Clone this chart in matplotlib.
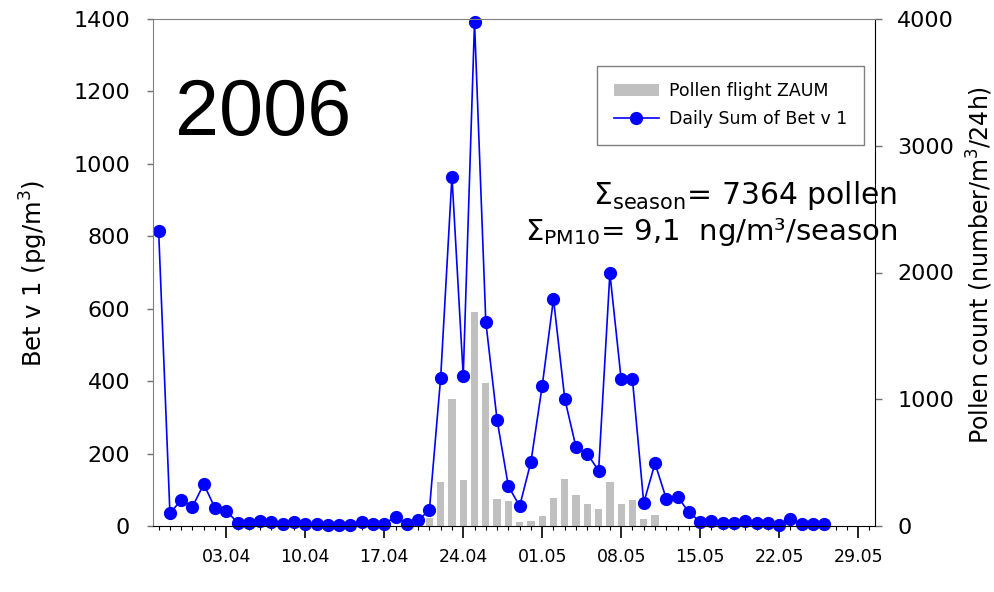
import matplotlib
matplotlib.use('Agg')
import matplotlib.pyplot as plt
import pandas as pd

# daily values 28.03.2006 - 26.05.2006
days = pd.date_range('2006-03-28', '2006-05-26', freq='D').to_pydatetime()

# Bet v 1 (pg/m3), left axis
bet_v1 = [815, 35, 72, 53, 116, 49, 42, 9, 7, 13,
          11, 5, 10, 6, 6, 2, 2, 2, 11, 5,
          5, 26, 5, 16, 44, 410, 965, 414, 1392, 564,
          293, 110, 55, 177, 387, 627, 351, 217, 199, 153,
          698, 405, 405, 64, 173, 75, 81, 38, 12, 15,
          9, 9, 15, 9, 9, 3, 18, 6, 5, 6]

# pollen count (number/m3/24h), right axis
pollen = [0, 0, 0, 0, 0, 0, 0, 0, 0, 0,
          0, 0, 0, 0, 0, 0, 0, 0, 0, 0,
          0, 0, 0, 0, 60, 350, 1003, 363, 1686, 1131,
          215, 200, 33, 39, 82, 218, 371, 245, 174, 131,
          347, 176, 205, 55, 87, 0, 0, 0, 0, 0,
          0, 0, 0, 0, 0, 0, 0, 0, 0, 0]

tick_dates = ['2006-04-03', '2006-04-10', '2006-04-17', '2006-04-24',
              '2006-05-01', '2006-05-08', '2006-05-15', '2006-05-22', '2006-05-29']
tick_labels = ['03.04', '10.04', '17.04', '24.04', '01.05', '08.05', '15.05', '22.05', '29.05']

fig = plt.figure(figsize=(9.94, 5.92), dpi=100)
ax = fig.add_axes([153 / 994, 1 - 526 / 592, 722 / 994, 507 / 592])
ax2 = ax.twinx()
# line above the bars
ax.set_zorder(ax2.get_zorder() + 1)
ax.patch.set_visible(False)

bars = ax2.bar(days, pollen, width=0.65, color='#c0c0c0')
line, = ax.plot(days, bet_v1, color='#0000ff', lw=1.2, marker='o', ms=8.5, clip_on=False)

ax.set_xlim(pd.Timestamp('2006-03-27 12:00'), pd.Timestamp('2006-05-30 12:00'))
ax.set_ylim(0, 1400)
ax2.set_ylim(0, 4000)
ax.set_yticks(range(0, 1401, 200))
ax2.set_yticks(range(0, 4001, 1000))
ax.set_xticks(pd.to_datetime(tick_dates), labels=tick_labels)
ax.set_xticks(days.tolist() + [pd.Timestamp('2006-05-27'), pd.Timestamp('2006-05-28'),
                               pd.Timestamp('2006-05-29'), pd.Timestamp('2006-05-30')], minor=True)

ax.tick_params(axis='y', direction='out', length=4.5, width=1, color='#707070', labelsize=16, pad=12)
ax2.tick_params(axis='y', direction='out', length=5, width=1, color='#707070', labelsize=16, pad=11)
ax.tick_params(axis='x', which='major', length=8.5, width=1.2, labelsize=12.5, pad=7)
ax.tick_params(axis='x', which='minor', length=3, width=0.8)

for s in ['left', 'top']:
    ax.spines[s].set_color('#808080')
ax.spines['right'].set_visible(False)
ax.spines['bottom'].set_color('black')
for s in ['left', 'top', 'bottom']:
    ax2.spines[s].set_visible(False)
ax2.spines['right'].set_color('black')

fig.text(34 / 994, 1 - 273 / 592, 'Bet v 1 (pg/m$^3$)', rotation=90, fontsize=17.5,
         ha='center', va='center')
fig.text(980 / 994, 1 - 265 / 592, 'Pollen count (number/m$^3$/24h)', rotation=90, fontsize=17,
         ha='center', va='center')

fig.text(175 / 994, 1 - 135 / 592, '2006', fontsize=57, family='Liberation Sans',
         ha='left', va='baseline')
fig.text(897 / 994, 1 - 204 / 592, r'$\Sigma_{\mathrm{season}}$= 7364 pollen', fontsize=21.5,
         ha='right', va='baseline')
fig.text(897 / 994, 1 - 240 / 592, r'$\Sigma_{\mathrm{PM10}}$= 9,1  ng/m³/season', fontsize=21,
         ha='right', va='baseline')

leg = ax.legend([bars, line], ['Pollen flight ZAUM', 'Daily Sum of Bet v 1'],
                loc='upper right', bbox_to_anchor=(864 / 994, 1 - 66 / 592),
                bbox_transform=fig.transFigure, borderaxespad=0, fontsize=12.5,
                fancybox=False, edgecolor='#808080', framealpha=1,
                handlelength=2.6, handletextpad=0.6, borderpad=0.95, labelspacing=0.55)
leg.get_frame().set_linewidth(1.0)

fig.savefig('out.png', dpi=100)
